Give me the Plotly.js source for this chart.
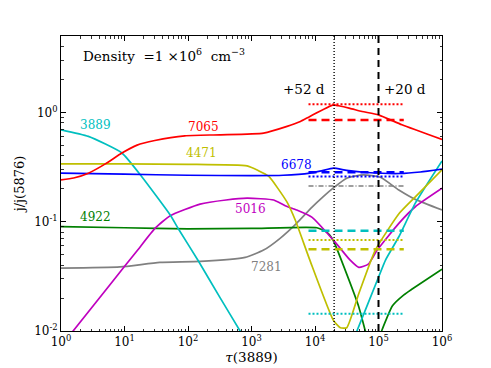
<!DOCTYPE html>
<html>
<head>
<meta charset="utf-8">
<script src="https://cdn.plot.ly/plotly-3.0.1.min.js"></script>
<style>html,body{margin:0;padding:0;background:#fff;}#chart{width:491px;height:368px;}</style>
</head>
<body>
<div id="chart"></div>
<script>
// ---- data (tau(3889) vs j/j(5876)) ----
const tau3889 = [1, 2.7, 9.1, 18.6, 52.5, 70.8, 145, 316, 661, 1000, null, 35500, 45700, 100000, 129000, 209000, 380000, 1000000];
const val3889 = [0.693, 0.603, 0.425, 0.259, 0.115, 0.0857, 0.0439, 0.0204, 0.0100, 0.0066, null, 0.0071, 0.0100, 0.031, 0.0446, 0.0728, 0.148, 0.36];

const tau4471 = [1, 10, 100, 851, 1260, 1860, 3630, 4900, 8300, 19500, 25100, 31600, 49000, 89100, 214000, 380000, 1000000];
const val4471 = [0.338, 0.338, 0.335, 0.324, 0.295, 0.261, 0.151, 0.103, 0.0445, 0.0125, 0.0107, 0.0107, 0.0220, 0.055, 0.120, 0.169, 0.298];

const tau6678 = [1, 10, 100, 1000, 3160, 8300, 12600, 19500, 31600, 66000, 219000, 457000, 1000000];
const val6678 = [0.278, 0.272, 0.266, 0.264, 0.266, 0.278, 0.292, 0.309, 0.295, 0.282, 0.276, 0.285, 0.303];

const tau7065 = [1, 1.58, 2.7, 5.0, 9.1, 15.8, 30, 89, 316, 1550, 3630, 5890, 8300, 19500, 23400, 35500, 55000, 100000, 234000, 1000000];
const val7065 = [0.241, 0.251, 0.278, 0.338, 0.425, 0.502, 0.553, 0.611, 0.624, 0.647, 0.745, 0.826, 0.918, 1.17, 1.15, 1.09, 1.02, 0.95, 0.77, 0.565];

const tau5016 = [1, 1.55, 6.3, 15.8, 30.2, 52.5, 155, 398, 851, 2240, 3390, 5130, 8910, 20900, 35500, 49000, 69200, 95500, 209000, 380000, 1000000];
const val5016 = [0.0073, 0.0100, 0.0278, 0.0543, 0.0869, 0.1135, 0.145, 0.158, 0.164, 0.158, 0.140, 0.128, 0.110, 0.0647, 0.0447, 0.0382, 0.0409, 0.055, 0.0966, 0.137, 0.202];

const tau4922 = [1, 10, 100, 1000, 10700, 15500, 19500, 30200, 49000, 61700, 70800, null, 100000, 112000, 166000, 251000, 339000, 1000000];
const val4922 = [0.090, 0.088, 0.0861, 0.0867, 0.0881, 0.080, 0.067, 0.0355, 0.0166, 0.0101, 0.0079, null, 0.0079, 0.0100, 0.0170, 0.0214, 0.0242, 0.0368];

const tau7281 = [1, 8.5, 36, 155, 794, 1550, 2820, 5130, 8910, 13500, 19500, 31600, 57500, 107000, 209000, 380000, 1000000];
const val7281 = [0.0376, 0.0386, 0.0424, 0.0433, 0.0471, 0.055, 0.0705, 0.0966, 0.1355, 0.170, 0.204, 0.250, 0.268, 0.255, 0.195, 0.160, 0.128];

// observed ratios at the two epochs (short horizontal lines)
const obsLines = ['7065', '6678', '3889', '4471'];
const obs52d = [1.19, 0.259, 0.0144, 0.068];   // dotted, +52 d
const obs20d = [0.85, 0.284, 0.0826, 0.056];   // dashed, +20 d
const obs7281 = 0.212;                          // dash-dot
const obsTauSpan = [7900, 250000];

// epochs (vertical lines)
const epochLabels = ['+52 d', '+20 d'];
const epochTau = [20000, 100000];

// axis ticks
const xTickVals = [1, 10, 100, 1000, 10000, 100000, 1000000];
const xTickText = ['10<sup>0</sup>', '10<sup>1</sup>', '10<sup>2</sup>', '10<sup>3</sup>', '10<sup>4</sup>', '10<sup>5</sup>', '10<sup>6</sup>'];
const yTickVals = [0.01, 0.1, 1];
const yTickText = ['10<sup>-2</sup>', '10<sup>-1</sup>', '10<sup>0</sup>'];

// ---- styling ----
const colors = {
  '3889': '#00BFBF', '4471': '#BFBF00', '6678': '#0000FF', '7065': '#FF0000',
  '5016': '#BF00BF', '4922': '#008000', '7281': '#808080'
};
const FONT = 'DejaVu Serif, serif';

const series = [
  ['7281', tau7281, val7281],
  ['4922', tau4922, val4922],
  ['5016', tau5016, val5016],
  ['3889', tau3889, val3889],
  ['4471', tau4471, val4471],
  ['6678', tau6678, val6678],
  ['7065', tau7065, val7065]
];

const traces = [];
series.forEach(([name, x, y]) => {
  traces.push({
    x: x, y: y, mode: 'lines', name: name, showlegend: false, hoverinfo: 'skip',
    line: {color: colors[name], width: 1.7, shape: 'spline', smoothing: 0.5},
    connectgaps: false
  });
});

obsLines.forEach((name, i) => {
  traces.push({
    x: obsTauSpan, y: [obs52d[i], obs52d[i]], mode: 'lines', showlegend: false, hoverinfo: 'skip',
    line: {color: colors[name], width: 2, dash: '2px,2px'}
  });
  traces.push({
    x: obsTauSpan, y: [obs20d[i], obs20d[i]], mode: 'lines', showlegend: false, hoverinfo: 'skip',
    line: {color: colors[name], width: 2.5, dash: '8px,5px'}
  });
});
traces.push({
  x: obsTauSpan, y: [obs7281, obs7281], mode: 'lines', showlegend: false, hoverinfo: 'skip',
  line: {color: colors['7281'], width: 1.6, dash: '5px,2px,1px,2px'}
});

// vertical epoch lines
traces.push({
  x: [epochTau[0], epochTau[0]], y: [0.01, 5], mode: 'lines', showlegend: false, hoverinfo: 'skip',
  line: {color: '#000', width: 1.4, dash: '1px,2px'}
});
traces.push({
  x: [epochTau[1], epochTau[1]], y: [0.01, 5], mode: 'lines', showlegend: false, hoverinfo: 'skip',
  line: {color: '#000', width: 2, dash: '7px,5px'}
});

const L = Math.log10;
function lab(text, tau, val, color, size) {
  return {x: L(tau), y: L(val), xref: 'x', yref: 'y', text: text, showarrow: false,
          font: {family: FONT, size: size || 12, color: color}, xanchor: 'center', yanchor: 'middle'};
}
const annotations = [
  lab('3889', 3.44, 0.771, colors['3889']),
  lab('7065', 174, 0.738, colors['7065']),
  lab('4471', 166, 0.425, colors['4471']),
  lab('6678', 5130, 0.327, colors['6678']),
  lab('5016', 955, 0.131, colors['5016']),
  lab('4922', 3.44, 0.110, colors['4922']),
  lab('7281', 1740, 0.0382, colors['7281']),
  lab(epochLabels[0], 6600, 1.65, '#000', 13.5),
  lab(epochLabels[1], 257000, 1.65, '#000', 13.5),
  {x: 0.052, y: 0.936, xref: 'paper', yref: 'paper', xanchor: 'left', yanchor: 'middle', showarrow: false,
   text: 'Density  =1 \u00d710<sup>6</sup>  cm<sup>\u22123</sup>', font: {family: FONT, size: 13.5, color: '#000'}}
];

const axisCommon = {
  type: 'log', showline: true, linecolor: '#000', linewidth: 1, mirror: 'ticks',
  ticks: 'inside', ticklen: 5, tickwidth: 1, tickcolor: '#000', showgrid: false, zeroline: false,
  tickfont: {family: FONT, size: 12, color: '#000'}, tickmode: 'array',
  minor: {ticks: 'inside', ticklen: 2.5, tickwidth: 0.8, tickcolor: '#000', tickmode: 'linear', dtick: 'D1', showgrid: false}
};

const layout = {
  width: 491, height: 368,
  margin: {l: 61, r: 49, t: 36, b: 37, pad: 0},
  paper_bgcolor: '#fff', plot_bgcolor: '#fff',
  showlegend: false,
  xaxis: Object.assign({}, axisCommon, {
    range: [0, 6], tickvals: xTickVals, ticktext: xTickText, automargin: false,
    title: {text: '<i>\u03c4</i>(3889)', font: {family: FONT, size: 13.5, color: '#000'}, standoff: 2}
  }),
  yaxis: Object.assign({}, axisCommon, {
    range: [-2, L(5)], tickvals: yTickVals, ticktext: yTickText, automargin: false,
    title: {text: 'j/j(5876)', font: {family: FONT, size: 13, color: '#000'}, standoff: 6}
  }),
  annotations: annotations
};

Plotly.newPlot('chart', traces, layout, {displayModeBar: false, staticPlot: true});
</script>
</body>
</html>
